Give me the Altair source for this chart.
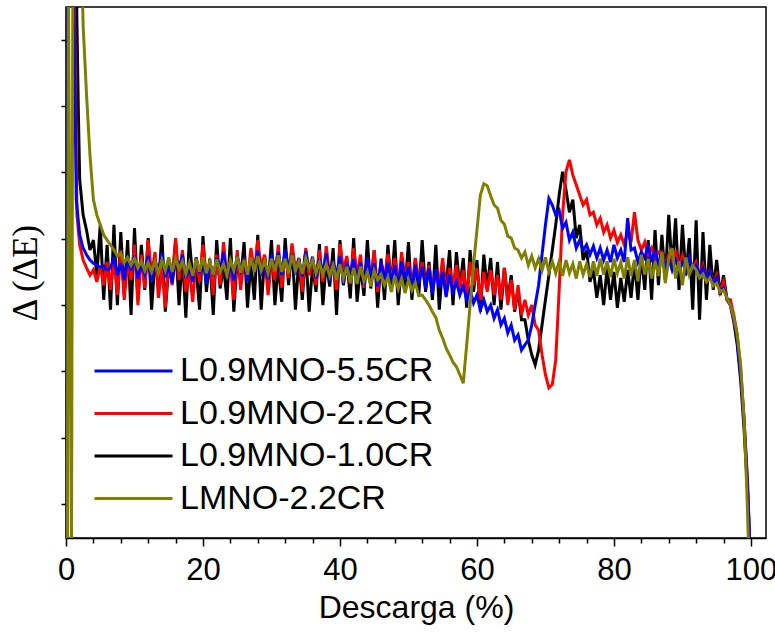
import altair as alt
import pandas as pd

# ---------------- data ----------------
series_names = ["L0.9MNO-5.5CR", "L0.9MNO-2.2CR", "L0.9MNO-1.0CR", "LMNO-2.2CR"]
series_colors = ["#0000FF", "#FF0000", "#000000", "#808000"]

x_ticks = [0, 20, 40, 60, 80, 100]
y_ticks = [0, 1, 2, 3, 4, 5, 6, 7]
step = 0.5  # sampling step (% of discharge) of the body values

# L0.9MNO-5.5CR (blue)
blue_head_x = [0.0, 0.15, 1.1, 1.5]
blue_head_y = [-0.8, 7.9, 7.9, 4.59]
blue_start = 2.0
blue_body = [
    4.06, 3.86, 3.76, 3.68, 3.63, 3.60, 3.57, 3.59, 3.53, 3.56,
    3.72, 3.45, 3.63, 3.38, 3.70, 3.52, 3.75, 3.40, 3.62, 3.47,
    3.74, 3.36, 3.66, 3.50, 3.78, 3.42, 3.60, 3.33, 3.70, 3.55,
    3.76, 3.41, 3.58, 3.35, 3.72, 3.48, 3.68, 3.32, 3.64, 3.44,
    3.71, 3.50, 3.80, 3.40, 3.62, 3.37, 3.74, 3.52, 3.66, 3.36,
    3.72, 3.50, 3.82, 3.44, 3.65, 3.39, 3.76, 3.55, 3.80, 3.45,
    3.84, 3.55, 3.77, 3.46, 3.70, 3.43, 3.81, 3.52, 3.73, 3.40,
    3.70, 3.48, 3.78, 3.36, 3.66, 3.44, 3.74, 3.33, 3.64, 3.46,
    3.69, 3.38, 3.64, 3.30, 3.72, 3.42, 3.63, 3.28, 3.66, 3.37,
    3.64, 3.34, 3.60, 3.26, 3.66, 3.38, 3.58, 3.23, 3.61, 3.32,
    3.58, 3.25, 3.55, 3.18, 3.54, 3.26, 3.50, 3.12, 3.46, 3.20,
    3.35, 3.15, 3.29, 3.08, 3.23, 3.03, 3.15, 2.93, 3.08, 2.90,
    3.00, 2.80, 2.93, 2.70, 2.80, 2.58, 2.70, 2.47, 2.55, 2.32,
    2.40, 2.47, 2.70, 3.00, 3.30, 3.76, 4.21, 4.61, 4.51, 4.36,
    4.43, 4.16, 4.25, 3.98, 4.10, 3.86, 3.98, 3.83, 3.91, 3.76,
    3.89, 3.71, 3.86, 3.68, 3.83, 3.65, 3.91, 3.71, 3.83, 3.65,
    4.31, 3.83, 3.86, 3.65, 3.80, 3.71, 3.91, 3.65, 3.83, 3.60,
    3.76, 3.59, 3.71, 3.53, 3.68, 3.56, 3.65, 3.50, 3.71, 3.53,
    3.60, 3.45, 3.56, 3.38, 3.50, 3.30, 3.41, 3.20, 3.26, 3.11,
    3.00, 2.78, 2.47,
]
blue_tail_x = [98.5, 99.0, 99.5, 99.9]
blue_tail_y = [1.94, 1.27, 0.29, -0.8]

# L0.9MNO-2.2CR (red)
red_head_x = [0.1, 0.25, 1.2, 1.6]
red_head_y = [-0.8, 7.9, 7.9, 4.36]
red_start = 2.0
red_body = [
    3.91, 3.68, 3.56, 3.45, 3.53, 3.35, 3.59, 3.30, 3.65, 3.23,
    3.71, 3.15, 3.83, 3.08, 3.65, 3.38, 3.91, 3.00, 3.76, 3.26,
    3.98, 3.45, 3.80, 3.11, 3.56, 2.96, 3.65, 3.30, 4.01, 3.38,
    3.83, 3.20, 3.53, 3.05, 3.71, 3.35, 3.91, 3.44, 3.65, 3.15,
    3.76, 3.30, 3.95, 3.41, 3.60, 3.08, 3.83, 3.23, 3.71, 3.38,
    3.86, 3.50, 3.98, 3.56, 3.76, 3.15, 3.65, 3.38, 3.91, 3.26,
    3.80, 3.41, 3.93, 3.53, 3.71, 3.20, 3.86, 3.45, 3.68, 3.30,
    3.83, 3.35, 3.89, 3.44, 3.65, 3.23, 3.92, 3.53, 3.74, 3.32,
    3.86, 3.45, 3.76, 3.26, 3.68, 3.38, 3.83, 3.20, 3.65, 3.41,
    3.77, 3.35, 3.71, 3.29, 3.80, 3.41, 3.65, 3.23, 3.71, 3.38,
    3.65, 3.26, 3.60, 3.20, 3.53, 3.30, 3.71, 3.15, 3.56, 3.23,
    3.60, 3.23, 3.53, 3.11, 3.65, 3.30, 3.56, 3.08, 3.50, 3.20,
    3.53, 3.15, 3.45, 3.08, 3.56, 3.00, 3.38, 2.93, 3.30, 2.85,
    3.08, 2.85, 3.00, 2.70, 2.62, 2.25, 1.95, 1.75, 1.80, 2.17,
    3.23, 4.36, 5.01, 5.19, 4.96, 4.81, 4.66, 4.51, 4.59, 4.36,
    4.40, 4.21, 4.31, 4.10, 4.21, 4.01, 4.13, 3.94, 4.06, 3.91,
    4.10, 3.95, 4.40, 3.98, 3.83, 3.95, 3.76, 3.86, 3.71, 3.80,
    3.80, 3.60, 3.76, 3.65, 3.83, 3.56, 3.74, 3.53, 3.71, 3.56,
    3.65, 3.45, 3.60, 3.35, 3.53, 3.30, 3.45, 3.20, 3.35, 3.08,
    3.08, 2.85, 2.55,
]
red_tail_x = [98.5, 99.0, 99.5, 99.9]
red_tail_y = [2.02, 1.27, 0.36, -0.8]

# L0.9MNO-1.0CR (black)
black_head_x = [0.1, 0.3, 1.5, 1.8]
black_head_y = [-0.8, 7.9, 7.9, 5.94]
black_start = 2.0
black_body = [
    4.89, 4.36, 4.13, 3.83, 3.98, 3.45, 4.21, 3.08, 3.91, 2.93,
    4.21, 3.00, 4.10, 3.15, 3.98, 2.85, 4.16, 3.08, 3.91, 3.23,
    4.01, 2.93, 3.70, 3.30, 4.06, 2.90, 3.60, 3.35, 3.98, 3.00,
    3.75, 2.81, 4.01, 3.40, 3.55, 2.93, 4.04, 3.20, 3.70, 2.85,
    3.98, 3.25, 3.60, 3.08, 4.01, 2.90, 3.70, 3.38, 3.95, 2.96,
    3.65, 3.08, 4.06, 2.93, 3.75, 3.30, 3.98, 3.00, 3.62, 3.05,
    4.01, 3.30, 3.89, 2.93, 3.70, 3.08, 3.83, 2.90, 3.60, 3.20,
    3.92, 3.00, 3.65, 3.28, 3.86, 2.85, 3.98, 3.30, 3.70, 3.10,
    4.01, 3.05, 3.60, 3.14, 3.98, 3.25, 3.83, 2.96, 3.70, 3.08,
    3.91, 3.25, 3.98, 3.00, 3.62, 3.23, 3.95, 3.08, 3.70, 3.14,
    3.98, 3.20, 3.65, 3.08, 3.91, 2.93, 3.60, 3.30, 3.83, 3.00,
    3.80, 3.25, 3.71, 2.96, 3.83, 3.20, 3.68, 2.90, 3.76, 3.25,
    3.71, 3.00, 3.65, 2.93, 3.56, 3.08, 3.45, 2.90, 3.23, 2.78,
    2.78, 2.47, 2.25, 2.10, 2.32, 2.70, 3.08, 3.45, 3.83, 4.21,
    4.66, 5.01, 4.74, 4.40, 4.59, 4.01, 4.21, 3.68, 3.83, 3.35,
    3.53, 3.11, 3.45, 3.00, 3.56, 3.08, 3.50, 2.96, 3.41, 3.05,
    3.53, 3.11, 3.65, 3.08, 3.76, 3.23, 3.98, 3.08, 4.13, 3.30,
    4.06, 3.38, 4.36, 3.53, 4.31, 3.23, 4.21, 3.45, 4.01, 2.93,
    4.28, 2.78, 4.10, 3.08, 3.91, 3.23, 3.68, 3.15, 3.45, 3.08,
    3.00, 2.75, 2.40,
]
black_tail_x = [98.5, 99.0, 99.5, 99.9]
black_tail_y = [1.87, 1.12, 0.21, -0.8]

# LMNO-2.2CR (olive)
olive_head_x = [0.2, 0.35, 0.8, 1.0, 2.35, 2.5]
olive_head_y = [-0.8, 7.9, -0.8, 7.9, 7.9, 7.22]
olive_start = 3.0
olive_body = [
    6.17, 5.26, 4.59, 4.36, 4.21, 4.06, 3.98, 3.91,
    3.83, 3.74, 3.78, 3.64, 3.72, 3.60, 3.70, 3.56, 3.66, 3.52,
    3.64, 3.50, 3.66, 3.48, 3.68, 3.52, 3.72, 3.50, 3.70, 3.54,
    3.66, 3.47, 3.64, 3.44, 3.70, 3.50, 3.72, 3.48, 3.66, 3.45,
    3.69, 3.50, 3.62, 3.45, 3.68, 3.52, 3.73, 3.49, 3.68, 3.46,
    3.72, 3.50, 3.74, 3.52, 3.66, 3.48, 3.70, 3.51, 3.75, 3.50,
    3.70, 3.48, 3.76, 3.52, 3.66, 3.47, 3.71, 3.55, 3.68, 3.48,
    3.64, 3.46, 3.62, 3.44, 3.60, 3.38, 3.62, 3.40, 3.58, 3.34,
    3.56, 3.32, 3.58, 3.36, 3.50, 3.28, 3.52, 3.38, 3.46, 3.30,
    3.42, 3.20, 3.44, 3.24, 3.40, 3.18, 3.38, 3.22, 3.34, 3.14,
    3.15, 3.08, 3.00, 2.90, 2.81, 2.62, 2.50, 2.35, 2.25, 2.14,
    2.07, 1.95, 1.82, 2.40, 3.00, 3.61, 4.13, 4.66, 4.83, 4.80,
    4.65, 4.51, 4.46, 4.28, 4.22, 4.04, 4.01, 3.86, 3.83, 3.71,
    3.80, 3.60, 3.74, 3.56, 3.70, 3.52, 3.72, 3.50, 3.66, 3.48,
    3.66, 3.44, 3.68, 3.48, 3.62, 3.40, 3.66, 3.46, 3.62, 3.42,
    3.66, 3.44, 3.70, 3.46, 3.66, 3.42, 3.70, 3.48, 3.64, 3.40,
    3.72, 3.44, 3.68, 3.36, 3.76, 3.46, 3.70, 3.40, 3.66, 3.44,
    3.80, 3.33, 3.70, 3.86, 3.40, 3.66, 3.30, 3.72, 3.46, 3.60,
    3.53, 3.41, 3.47, 3.35, 3.41, 3.29, 3.33, 3.20, 3.23, 3.11,
    3.00, 2.81, 2.55,
]
olive_tail_x = [98.5, 99.0, 99.4, 99.7]
olive_tail_y = [2.10, 1.27, 0.21, -0.8]


def build(name, hx, hy, start, body, tx, ty):
    xs = list(hx) + [round(start + step * i, 2) for i in range(len(body))] + list(tx)
    ys = list(hy) + list(body) + list(ty)
    return pd.DataFrame({"x": xs, "y": ys, "series": name, "i": list(range(len(xs)))})


frames = {
    series_names[0]: build(series_names[0], blue_head_x, blue_head_y, blue_start, blue_body, blue_tail_x, blue_tail_y),
    series_names[1]: build(series_names[1], red_head_x, red_head_y, red_start, red_body, red_tail_x, red_tail_y),
    series_names[2]: build(series_names[2], black_head_x, black_head_y, black_start, black_body, black_tail_x, black_tail_y),
    series_names[3]: build(series_names[3], olive_head_x, olive_head_y, olive_start, olive_body, olive_tail_x, olive_tail_y),
}

# ---------------- chart ----------------
x_scale = alt.Scale(domain=[0, 102.2], nice=False, zero=False)
y_scale = alt.Scale(domain=[-0.513, 7.496], nice=False, zero=False)
color_scale = alt.Scale(domain=series_names, range=series_colors)

x_axis = alt.Axis(
    values=list(range(0, 101, 4)),
    labelExpr="datum.value % 20 === 0 ? datum.label : ''",
    tickSize={"condition": {"test": "datum.value % 20 === 0", "value": 8}, "value": 5},
    labelFontSize=31, labelFont="Liberation Sans", labelColor="black",
    labelPadding=9, labelFlush=False, labelOverlap=False,
    title="Descarga (%)", titleFont="Liberation Sans", titleFontSize=32,
    titleFontWeight="normal", titleColor="black", titlePadding=7,
    grid=False, domainColor="black", domainWidth=1.5, tickColor="black", tickWidth=1.5,
)
y_axis = alt.Axis(
    values=y_ticks, labels=False, tickSize=5,
    title="Δ (ΔE)", titleFont="Liberation Serif", titleFontSize=35,
    titleFontWeight="normal", titleColor="black", titlePadding=17,
    grid=False, domainColor="black", domainWidth=1.5, tickColor="black", tickWidth=1.5,
)

legend = alt.Legend(
    orient="none", legendX=27, legendY=346, title=None,
    symbolType="stroke", symbolSize=6084, symbolStrokeWidth=3,
    labelFontSize=34, labelFont="Liberation Sans", labelColor="black",
    labelOffset=6, clipHeight=36, rowPadding=6.5, padding=0, labelLimit=400,
)

draw_order = [series_names[2], series_names[1], series_names[0], series_names[3]]
layers = []
for name in draw_order:
    layers.append(
        alt.Chart(frames[name]).mark_line(strokeWidth=3, clip=True).encode(
            x=alt.X("x:Q", scale=x_scale, axis=x_axis),
            y=alt.Y("y:Q", scale=y_scale, axis=y_axis),
            color=alt.Color("series:N", scale=color_scale, legend=legend),
            order=alt.Order("i:Q"),
        )
    )

chart = alt.layer(*layers).properties(
    width=700, height=531,
    padding={"left": 66, "top": 7, "right": 9, "bottom": 101},
    autosize=alt.AutoSizeParams(type="none"),
    background="white",
).configure_view(stroke="black", strokeWidth=1.5)

chart.save("out.html", embed_options={"renderer": "svg", "actions": False})
